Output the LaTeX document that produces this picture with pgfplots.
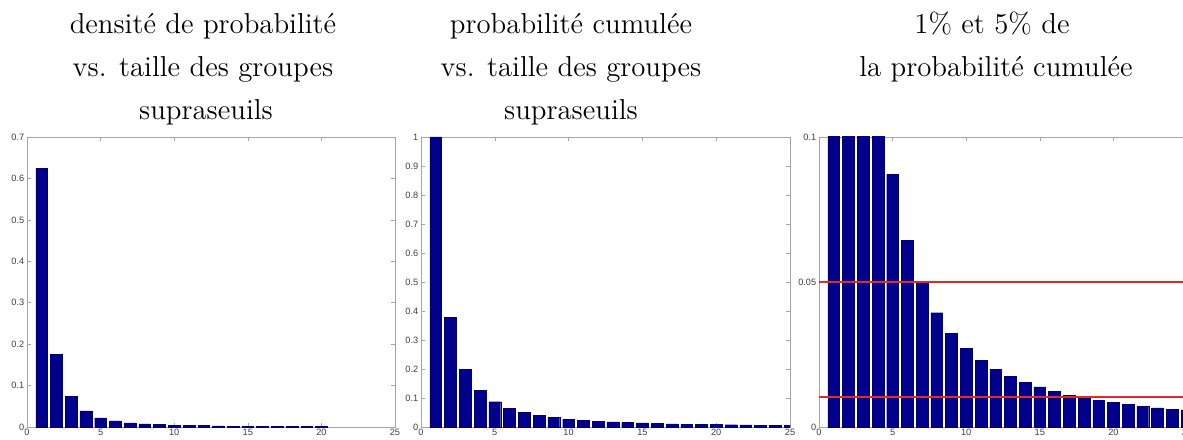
\documentclass[border=0pt]{standalone}
\usepackage{fontspec}
\usepackage{pgfplots}
\pgfplotsset{compat=1.18}
\newfontfamily\tickfont{Liberation Sans}
\definecolor{matblue}{RGB}{0,0,140}
\definecolor{matred}{RGB}{230,40,40}

\pgfplotsset{matstyle/.style={
    scale only axis, anchor=south west,
    width=184pt, height=145pt,
    xmin=0, xmax=25, xtick={0,5,...,25},
    ymin=0,
    tick align=inside, major tick length=2pt,
    axis line style={gray!70, line width=0.4pt},
    every tick/.style={gray!70, line width=0.3pt},
    tick label style={font=\tickfont\fontsize{4.6}{5}\selectfont, text=black!75},
    xticklabel style={inner sep=1pt},
    yticklabel style={inner sep=1.2pt},
    /pgf/number format/assume math mode=true,
    /pgf/number format/fixed,
    /pgf/number format/precision=2,
}}
\tikzset{bars/.style={ybar, bar width=0.8, fill=matblue, draw=matblue!80!black, line width=0.2pt}}
\tikzset{ttl/.style={anchor=base, inner sep=0pt, font=\fontsize{14.4}{16}\selectfont}}

\begin{document}
\begin{tikzpicture}
\useasboundingbox (0,0) rectangle (591.5pt,219.5pt);

% densite
\begin{axis}[matstyle, at={(13.5pt,6pt)}, ymax=0.7, ytick={0,0.1,...,0.7}]
\addplot[bars] coordinates {
(1,0.625) (2,0.176) (3,0.074) (4,0.039) (5,0.022) (6,0.0145) (7,0.0097)
(8,0.0073) (9,0.0056) (10,0.0048) (11,0.004) (12,0.0032) (13,0.0027)
(14,0.0023) (15,0.002) (16,0.0018) (17,0.0016) (18,0.0014) (19,0.0012) (20,0.001)};
\end{axis}

% cumulee
\begin{axis}[matstyle, at={(210.5pt,6pt)}, width=184.5pt, ymax=1, ytick={0,0.1,...,1}]
\addplot[bars] coordinates {
(1,1.0) (2,0.377) (3,0.200) (4,0.126) (5,0.0871) (6,0.0644) (7,0.0498)
(8,0.0394) (9,0.0324) (10,0.0271) (11,0.0229) (12,0.0199) (13,0.0174)
(14,0.0155) (15,0.0138) (16,0.0123) (17,0.0108) (18,0.0101) (19,0.0092)
(20,0.0085) (21,0.0078) (22,0.0071) (23,0.0066) (24,0.0062) (25,0.0059)};
\end{axis}

% seuils 1% et 5%
\begin{axis}[matstyle, at={(409.5pt,6pt)}, ymax=0.1, ytick={0,0.05,0.1},
    yticklabels={0,0.05,0.1}]
\addplot[bars] coordinates {
(1,1.0) (2,0.377) (3,0.200) (4,0.126) (5,0.0871) (6,0.0644) (7,0.0498)
(8,0.0394) (9,0.0324) (10,0.0271) (11,0.0229) (12,0.0199) (13,0.0174)
(14,0.0155) (15,0.0138) (16,0.0123) (17,0.0108) (18,0.0101) (19,0.0092)
(20,0.0085) (21,0.0078) (22,0.0071) (23,0.0066) (24,0.0062) (25,0.0059)};
\addplot[matred, line width=1pt] coordinates {(0,0.05) (25,0.05)};
\addplot[matred, line width=1pt] coordinates {(0,0.0102) (25,0.0102)};
\end{axis}

% titres
\node[ttl] at (101.5pt,202.5pt) {densité de probabilité};
\node[ttl] at (101.5pt,181pt) {vs. taille des groupes};
\node[ttl] at (103pt,159.5pt) {supraseuils};
\node[ttl] at (285.5pt,202.5pt) {probabilité cumulée};
\node[ttl] at (285.5pt,181pt) {vs. taille des groupes};
\node[ttl] at (285.5pt,159.5pt) {supraseuils};
\node[ttl] at (496pt,202.5pt) {1\% et 5\% de};
\node[ttl] at (498pt,181pt) {la probabilité cumulée};
\end{tikzpicture}
\end{document}
